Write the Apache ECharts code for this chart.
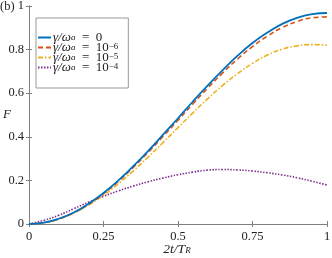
<!DOCTYPE html>
<html><head><meta charset="utf-8">
<script src="https://cdn.jsdelivr.net/npm/echarts@6/dist/echarts.min.js"></script>
<style>html,body{margin:0;padding:0;background:#fff}#c{width:332px;height:258px}</style>
</head><body><div id="c"></div>
<script>
const tValues = [0,0.05,0.1,0.15,0.2,0.25,0.3,0.35,0.4,0.45,0.5,0.55,0.6,0.65,0.7,0.75,0.8,0.85,0.9,0.95,1];
const gamma0 = [0,0.006,0.024,0.053,0.093,0.142,0.2,0.265,0.335,0.41,0.485,0.562,0.636,0.706,0.772,0.83,0.878,0.918,0.946,0.963,0.968];
const gamma1e6 = [0,0.006,0.024,0.052,0.091,0.139,0.196,0.26,0.329,0.402,0.476,0.551,0.624,0.693,0.757,0.814,0.862,0.901,0.929,0.946,0.95];
const gamma1e5 = [0,0.006,0.023,0.05,0.087,0.132,0.185,0.244,0.307,0.374,0.442,0.51,0.575,0.636,0.69,0.737,0.775,0.802,0.817,0.823,0.82];
const gamma1e4 = [0,0.017,0.04,0.07,0.1,0.127,0.152,0.174,0.194,0.211,0.226,0.238,0.247,0.25,0.248,0.243,0.235,0.225,0.212,0.196,0.179];
const seriesNames = ['γ/ωa = 0','γ/ωa = 10^-6','γ/ωa = 10^-5','γ/ωa = 10^-4'];
const legendLabels = [
  '{i|γ/ω}{s|a}{g|\u2002=\u20020}',
  '{i|γ/ω}{s|a}{g|\u2002=\u200210}{p|−6}',
  '{i|γ/ω}{s|a}{g|\u2002=\u200210}{p|−5}',
  '{i|γ/ω}{s|a}{g|\u2002=\u200210}{p|−4}'
];
const xTicks = [0,0.25,0.5,0.75,1];
const xTickLabels = ['0','0.25','0.5','0.75','1'];

const colors = ['#0072BD','#D95319','#EDB120','#7E2F8E'];
const dashes = ['solid',[5,3],[5,2,1.5,2],[1.5,1.5]];
const datas = [gamma0,gamma1e6,gamma1e5,gamma1e4];
const font = 'Liberation Serif';
const axisColor = '#808080';
const txt = '#222';

const richLegend = {
  i:{fontFamily:font,fontStyle:'italic',fontSize:13,lineHeight:10,color:txt},
  g:{fontFamily:font,fontSize:13,lineHeight:10,color:txt},
  s:{fontFamily:font,fontStyle:'italic',fontSize:9,lineHeight:3,verticalAlign:'bottom',color:txt},
  p:{fontFamily:font,fontSize:9,lineHeight:3,verticalAlign:'top',color:txt}
};

const chart = echarts.init(document.getElementById('c'), null, {renderer:'canvas'});
const series = datas.map((d,i)=>({
  name: seriesNames[i], type:'line', smooth:true, showSymbol:false, symbol:'none',
  data: tValues.map((t,j)=>[t,d[j]]),
  lineStyle:{color:colors[i], width: i===0?1.8:1.6, type:dashes[i]},
  itemStyle:{color:colors[i]}, z: 10-i
}));
chart.setOption({
  animation:false,
  textStyle:{fontFamily:font},
  grid:{left:29,right:5,top:6,bottom:34,containLabel:false,outerBoundsMode:'none'},
  legend:{
    left:36, top:18, orient:'vertical', padding:[13,10,14,1],
    backgroundColor:'#fff', borderColor:'#999', borderWidth:1,
    itemWidth:13, itemHeight:8, itemGap:-3,
    itemStyle:{opacity:0},
    formatter: name => legendLabels[seriesNames.indexOf(name)],
    textStyle:{fontFamily:font, fontSize:13, lineHeight:10, color:txt, padding:[0,0,0,-3], rich:richLegend},
    data: seriesNames
  },
  xAxis:[{
    type:'value', min:0, max:1, interval:0.25,
    axisLine:{show:true,lineStyle:{color:axisColor}},
    axisTick:{inside:true,length:3,lineStyle:{color:axisColor}},
    axisLabel:{fontFamily:font,fontSize:12.5,color:txt,margin:6,
      formatter:v=>{const k=xTicks.indexOf(v);return k>=0?xTickLabels[k]:'';}},
    splitLine:{show:false}
  },{
    type:'value', min:0, max:1, interval:0.25, position:'top',
    axisLine:{show:true,lineStyle:{color:axisColor}},
    axisTick:{inside:true,length:3,lineStyle:{color:axisColor}},
    axisLabel:{show:false}, splitLine:{show:false}
  }],
  yAxis:[{
    type:'value', min:0, max:1, interval:0.2,
    axisLine:{show:true,lineStyle:{color:axisColor}},
    axisTick:{inside:true,length:3,lineStyle:{color:axisColor}},
    axisLabel:{fontFamily:font,fontSize:12.5,color:txt,margin:5,
      formatter:v=>String(Math.round(v*10)/10)},
    splitLine:{show:false}
  },{
    type:'value', min:0, max:1, interval:0.2, position:'right',
    axisLine:{show:true,lineStyle:{color:axisColor}},
    axisTick:{inside:true,length:3,lineStyle:{color:axisColor}},
    axisLabel:{show:false}, splitLine:{show:false}
  }],
  graphic:[
    {type:'text', left:0, top:0, style:{text:'(b)', fontFamily:font, fontSize:12.5, fill:txt}},
    {type:'text', x:7, y:115, style:{text:'F', fontFamily:font, fontStyle:'italic', fontSize:13, fill:txt, align:'center', verticalAlign:'middle'}},
    {type:'text', x:177, y:249, style:{text:'{i|2t/T}{s|R}', align:'center', verticalAlign:'middle',
      rich:{i:{fontFamily:font,fontStyle:'italic',fontSize:13.5,lineHeight:12,fill:txt},
            s:{fontFamily:font,fontStyle:'italic',fontSize:9,lineHeight:3,verticalAlign:'bottom',fill:txt}}}}
  ],
  series: series
});
</script></body></html>
